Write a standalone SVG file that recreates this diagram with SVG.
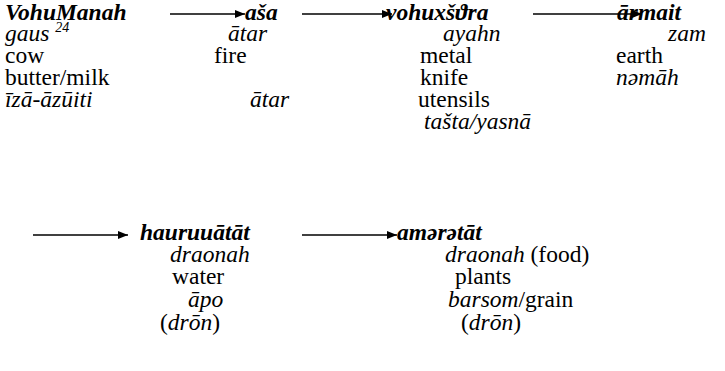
<svg xmlns="http://www.w3.org/2000/svg" width="725" height="371" viewBox="0 0 725 371">
<defs>
<marker id="ah" viewBox="0 0 10 8" refX="10" refY="4" markerWidth="10" markerHeight="8" markerUnits="userSpaceOnUse" orient="auto">
<path d="M0,0 L10,4 L0,8 z" fill="#000"/>
</marker>
<style>
text{font-family:"Liberation Serif","Times New Roman",serif;font-size:23.5px;fill:#000}
.h{font-weight:bold;font-style:italic}
.i{font-style:italic}
.sup{font-size:14px;font-style:italic}
.c{stroke:#000;stroke-width:1.4;fill:none;marker-end:url(#ah)}
</style>
</defs>
<rect width="725" height="371" fill="#fff"/>
<g id="connectors">
<line class="c" x1="170" y1="14" x2="245" y2="14"/>
<line class="c" x1="302" y1="14" x2="392" y2="14"/>
<line class="c" x1="533" y1="14" x2="642" y2="14"/>
<line class="c" x1="33" y1="235" x2="128" y2="235"/>
<line class="c" x1="302" y1="235" x2="397" y2="235"/>
</g>
<g id="vohumanah">
<text class="h" x="5" y="20">VohuManah</text>
<text x="5" y="41"><tspan class="i">gaus </tspan><tspan class="sup" dy="-9">24</tspan></text>
<text x="5" y="63">cow</text>
<text x="5" y="85">butter/milk</text>
<text class="i" x="5" y="107">īzā-āzūiti</text>
</g>
<g id="asha">
<text class="h" x="245" y="20">aša</text>
<text class="i" x="228" y="41">ātar</text>
<text x="214" y="63">fire</text>
<text class="i" x="250" y="107">ātar</text>
</g>
<g id="vohuxshathra">
<text class="h" x="386" y="20">vohuxšϑra</text>
<text class="i" x="443" y="41">ayahn</text>
<text x="420" y="63">metal</text>
<text x="420" y="85">knife</text>
<text x="418" y="107">utensils</text>
<text class="i" x="424" y="129">tašta/yasnā</text>
</g>
<g id="armait">
<text class="h" x="617" y="20">ārmait</text>
<text class="i" x="668" y="41">zam</text>
<text x="616" y="63">earth</text>
<text class="i" x="616" y="85">nəmāh</text>
</g>
<g id="hauruuatat">
<text class="h" x="140" y="240">hauruuātāt</text>
<text class="i" x="170" y="262">draonah</text>
<text x="172" y="284">water</text>
<text class="i" x="188" y="307">āpo</text>
<text x="160" y="330">(<tspan class="i">drōn</tspan>)</text>
</g>
<g id="amaratat">
<text class="h" x="397" y="240">amərətāt</text>
<text x="445" y="262"><tspan class="i">draonah</tspan> (food)</text>
<text x="455" y="284">plants</text>
<text x="448" y="307"><tspan class="i">barsom</tspan>/grain</text>
<text x="461" y="330">(<tspan class="i">drōn</tspan>)</text>
</g>
</svg>
